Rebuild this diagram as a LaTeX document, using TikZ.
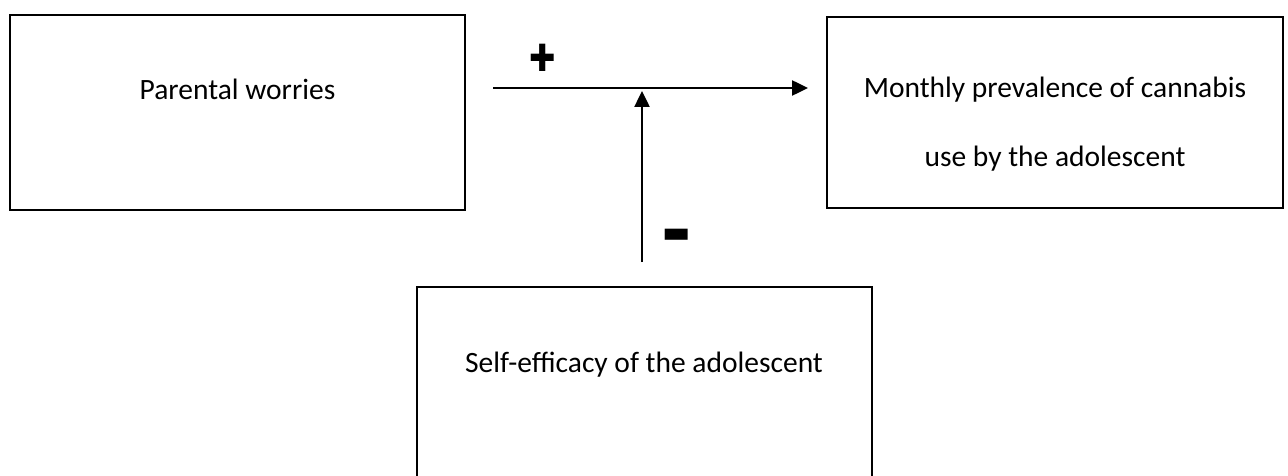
\documentclass[tikz,border=0pt]{standalone}
\usepackage{fontspec}
\setmainfont{Carlito}
\newfontfamily\symfont{DejaVu Sans}
\usetikzlibrary{arrows.meta}
\tikzset{
  box/.style={draw=black, line width=2.5pt, rectangle, inner sep=0pt},
  lbl/.style={anchor=base, inner sep=0pt, font=\fontsize{29.5}{35}\selectfont},
  conn/.style={line width=2.5pt, -{Triangle[length=16pt,width=15pt]}},
  sign/.style={inner sep=0pt, font=\symfont\fontsize{30}{36}\selectfont}
}
\begin{document}
\begin{tikzpicture}[x=1pt,y=-1pt]
\useasboundingbox (0,0) rectangle (1288,476);
\node[box, minimum width=455pt, minimum height=195pt] (pw) at (237.5,112.5) {};
\node[box, minimum width=456pt, minimum height=191pt] (mp) at (1055,112.5) {};
\node[box, minimum width=455pt, minimum height=195pt] (se) at (644.5,384.5) {};
\node[lbl] (pwt) at (237.5,100) {Parental worries};
\node[lbl] (mpt1) at (1055,98) {Monthly prevalence of cannabis};
\node[lbl] (mpt2) at (1055,167) {use by the adolescent};
\node[lbl] (set) at (644,372) {Self-efficacy of the adolescent};
\coordinate (hs) at (493,88);
\coordinate (he) at (808,88);
\coordinate (vs) at (642,262);
\coordinate (ve) at (642,91);
\draw[conn] (hs) -- (he);
\draw[conn] (vs) -- (ve);
\node[sign, xscale=1.05, yscale=1.25] (plus) at (542.5,58) {✚};
\node[sign] (minus) at (676.5,235.5) {▬};
\end{tikzpicture}
\end{document}
